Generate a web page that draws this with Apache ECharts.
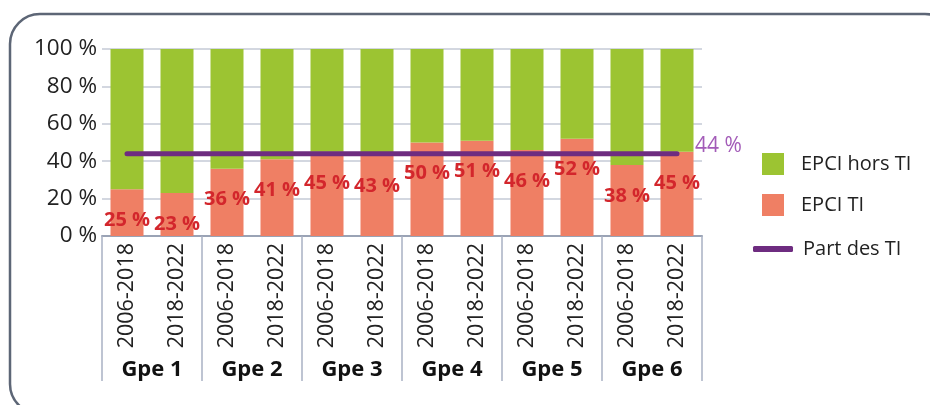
<!DOCTYPE html>
<html>
<head>
<meta charset="utf-8">
<script src="https://cdn.jsdelivr.net/npm/echarts@6/dist/echarts.min.js"></script>
<style>
  html, body { margin: 0; padding: 0; background: #fff; }
  #chart { width: 930px; height: 405px; }
</style>
</head>
<body>
<div id="chart"></div>
<script>
// données
const periods = ['2006-2018', '2018-2022', '2006-2018', '2018-2022', '2006-2018', '2018-2022',
                 '2006-2018', '2018-2022', '2006-2018', '2018-2022', '2006-2018', '2018-2022'];
const groups = ['Gpe 1', 'Gpe 2', 'Gpe 3', 'Gpe 4', 'Gpe 5', 'Gpe 6'];
const epciTI = [25, 23, 36, 41, 45, 43, 50, 51, 46, 52, 38, 45];
const epciHorsTI = [75, 77, 64, 59, 55, 57, 50, 49, 54, 48, 62, 55];
const partTI = [44, 44, 44, 44, 44, 44, 44, 44, 44, 44, 44, 44];
const yTicks = [0, 20, 40, 60, 80, 100];

const FONT = 'Open Sans';
const chart = echarts.init(document.getElementById('chart'));

const option = {
  backgroundColor: '#fff',
  textStyle: { fontFamily: FONT },
  animation: false,
  graphic: [{
    type: 'rect',
    shape: { x: 10, y: 14, width: 945, height: 400, r: 30 },
    style: { fill: 'none', stroke: '#5d6676', lineWidth: 2.5 },
    silent: true
  }],
  legend: [
    {
      data: ['EPCI hors TI', 'EPCI TI'],
      orient: 'vertical',
      left: 757,
      top: 148,
      itemWidth: 22,
      itemHeight: 22,
      itemGap: 19,
      icon: 'rect',
      textStyle: { fontFamily: FONT, fontSize: 20, color: '#222', padding: [0, 0, 0, 12] }
    },
    {
      data: [{ name: 'Part des TI', icon: 'roundRect' }],
      left: 748,
      top: 234,
      itemWidth: 40,
      itemHeight: 6,
      textStyle: { fontFamily: FONT, fontSize: 20, color: '#222', padding: [0, 0, 0, 5] }
    }
  ],
  grid: { left: 102, right: 228, top: 49, bottom: 169 },
  xAxis: [
    {
      type: 'category',
      data: periods,
      axisLine: { show: true, lineStyle: { color: '#9aa3b5', width: 2 } },
      axisTick: { show: false },
      axisLabel: { rotate: 90, margin: 7, fontSize: 21.5, color: '#222', fontFamily: FONT }
    },
    {
      type: 'category',
      data: groups,
      position: 'bottom',
      axisLine: { show: false },
      axisTick: { show: true, interval: 0, length: 145, lineStyle: { color: '#a9b1c3', width: 1.5 } },
      axisLabel: { margin: 123, fontSize: 22, fontWeight: 'bold', color: '#111', fontFamily: FONT }
    }
  ],
  yAxis: {
    type: 'value',
    min: yTicks[0],
    max: yTicks[yTicks.length - 1],
    interval: 20,
    axisLine: { show: false },
    axisTick: { show: false },
    splitLine: { lineStyle: { color: '#c5cad6', width: 1.5 } },
    axisLabel: { formatter: '{value} %', margin: 5, fontSize: 22.5, color: '#222', fontFamily: FONT }
  },
  series: [
    {
      name: 'EPCI TI',
      type: 'bar',
      stack: 'total',
      barWidth: 33,
      data: epciTI,
      itemStyle: { color: '#ef7f64' },
      label: {
        show: true,
        position: 'insideTop',
        distance: 21,
        formatter: '{c} %',
        color: '#d3262c',
        fontSize: 20,
        fontWeight: 'bold',
        fontFamily: FONT
      },
      z: 2
    },
    {
      name: 'EPCI hors TI',
      type: 'bar',
      stack: 'total',
      barWidth: 33,
      data: epciHorsTI,
      itemStyle: { color: '#9cc432' },
      z: 2
    },
    {
      name: 'Part des TI',
      type: 'line',
      data: partTI,
      symbol: 'none',
      itemStyle: { color: '#6e2c80' },
      lineStyle: { color: '#6e2c80', width: 5, cap: 'round' },
      endLabel: {
        show: true,
        formatter: '{c} %',
        distance: 18,
        offset: [0, -8],
        color: '#a35cb8',
        fontSize: 21,
        fontFamily: FONT
      },
      z: 5
    }
  ]
};

chart.setOption(option);
window.addEventListener('resize', () => chart && chart.resize());
</script>
</body>
</html>
